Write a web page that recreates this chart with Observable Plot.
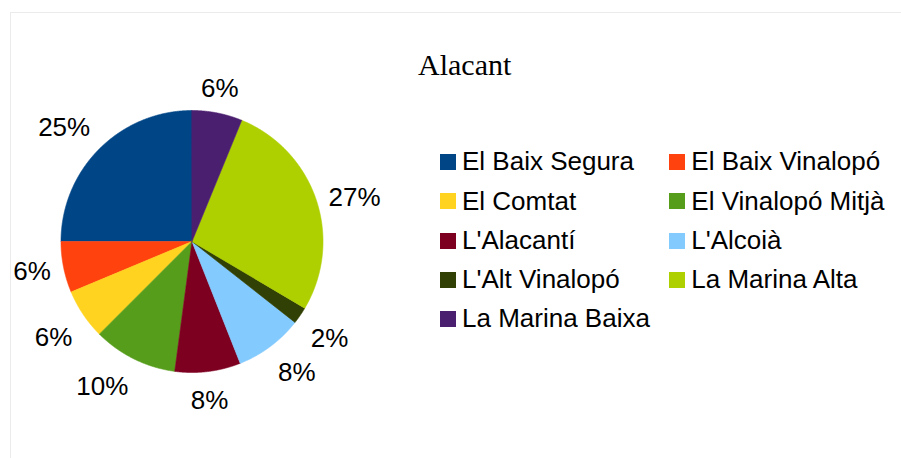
<!DOCTYPE html>
<html><head><meta charset="utf-8">
<script src="https://cdn.jsdelivr.net/npm/d3@7"></script>
<script src="https://cdn.jsdelivr.net/npm/@observablehq/plot@0.6"></script>
<style>
html,body{margin:0;padding:0;background:#fff;}
#wrap{position:relative;width:901px;height:458px;overflow:hidden;font-family:"Liberation Sans",Arial,sans-serif;}
#chart{position:absolute;left:0;top:0;}
#title{position:absolute;left:418px;top:50px;font:30px/30px "Liberation Serif","Times New Roman",serif;color:#000;white-space:nowrap;}
#legend{position:absolute;left:440px;top:142.3px;display:grid;grid-template-columns:229.3px 229.3px;grid-auto-rows:39.3px;}
.item{display:flex;align-items:center;font-size:26px;line-height:39.3px;white-space:nowrap;color:#000;}
.sw{width:16px;height:16px;margin-right:6px;flex:none;}
</style></head><body>
<div id="wrap"><div id="chart"></div><div id="title"></div><div id="legend"></div></div>
<script>
const title = "Alacant";
const comarques = ["El Baix Segura","El Baix Vinalopó","El Comtat","El Vinalopó Mitjà","L'Alacantí","L'Alcoià","L'Alt Vinalopó","La Marina Alta","La Marina Baixa"];
const shares = [25.0, 6.3, 6.2, 10.4, 8.1, 8.4, 2.1, 27.3, 6.2];
const colors = ["#004586","#ff420e","#ffd320","#579d1c","#7e0021","#83caff","#314004","#aecf00","#4b1f6f"];

const total = d3.sum(shares);
let cum = 0;
const slices = comarques.map((name, i) => {
  const a0 = cum / total * 2 * Math.PI;
  cum += shares[i];
  const a1 = cum / total * 2 * Math.PI;
  return {name, pct: shares[i] / total * 100, a0, a1};
});

// wedge outlines (counter-clockwise from 12 o'clock), unit-circle coordinates
const verts = [];
for (const s of slices) {
  verts.push({name: s.name, x: 0, y: 0});
  const n = Math.max(2, Math.ceil((s.a1 - s.a0) / (Math.PI / 720)));
  for (let k = 0; k <= n; k++) {
    const a = s.a0 + (s.a1 - s.a0) * k / n;
    verts.push({name: s.name, x: -Math.sin(a), y: Math.cos(a)});
  }
}

const cx = 191.5, cy = 241, R = 131;
const labelFont = 26;
const Ra = 144; // label anchor radius (px)
const ctx = document.createElement("canvas").getContext("2d");
ctx.font = `${labelFont}px "Liberation Sans", Arial, sans-serif`;
// 8-way alignment of the label box around its anchor point
const hAlign = [0, 1, 1, 1, 0, -1, -1, -1];   // +1: box to the right of anchor
const vAlign = [-1, -1, 0, 1, 1, 1, 0, -1];   // +1: box below anchor
const labels = slices.map(s => {
  const m = (s.a0 + s.a1) / 2;
  const ux = -Math.sin(m), uy = Math.cos(m);   // y up
  const text = `${Math.round(s.pct)}%`;
  const w = ctx.measureText(text).width;
  let deg = (360 - m * 180 / Math.PI) % 360;   // clockwise from 12 o'clock
  const sec = Math.round(deg / 45) % 8;
  const ax = ux * Ra, ay = -uy * Ra;          // pixel offsets, y down
  const px = ax + hAlign[sec] * w / 2;
  const base = vAlign[sec] === -1 ? ay - 3.5 : vAlign[sec] === 0 ? ay + 10.5 : ay + 24.5;
  return {text, x: px / R, y: -base / R};
});

const chart = Plot.plot({
  width: 901, height: 458,
  marginTop: 12, marginLeft: 10, marginRight: 0, marginBottom: 0,
  x: {domain: [-1, 1], range: [cx - R, cx + R], axis: null},
  y: {domain: [-1, 1], range: [cy + R, cy - R], axis: null},
  color: {domain: comarques, range: colors},
  style: {background: "transparent", fontFamily: '"Liberation Sans", Arial, sans-serif'},
  marks: [
    Plot.frame({stroke: "#ebebeb"}),
    Plot.line(verts, {x: "x", y: "y", z: "name", fill: "name", stroke: "name", strokeWidth: 0.6, curve: "linear-closed"}),
    Plot.text(labels, {x: "x", y: "y", text: "text", fontSize: labelFont, fill: "#000", textAnchor: "middle", lineAnchor: "bottom"})
  ]
});
document.getElementById("chart").appendChild(chart);
document.getElementById("title").textContent = title;

const legend = document.getElementById("legend");
comarques.forEach((name, i) => {
  const item = document.createElement("div");
  item.className = "item";
  const sw = document.createElement("span");
  sw.className = "sw";
  sw.style.background = colors[i];
  const t = document.createElement("span");
  t.textContent = name;
  item.appendChild(sw);
  item.appendChild(t);
  legend.appendChild(item);
});
</script>
</body></html>
